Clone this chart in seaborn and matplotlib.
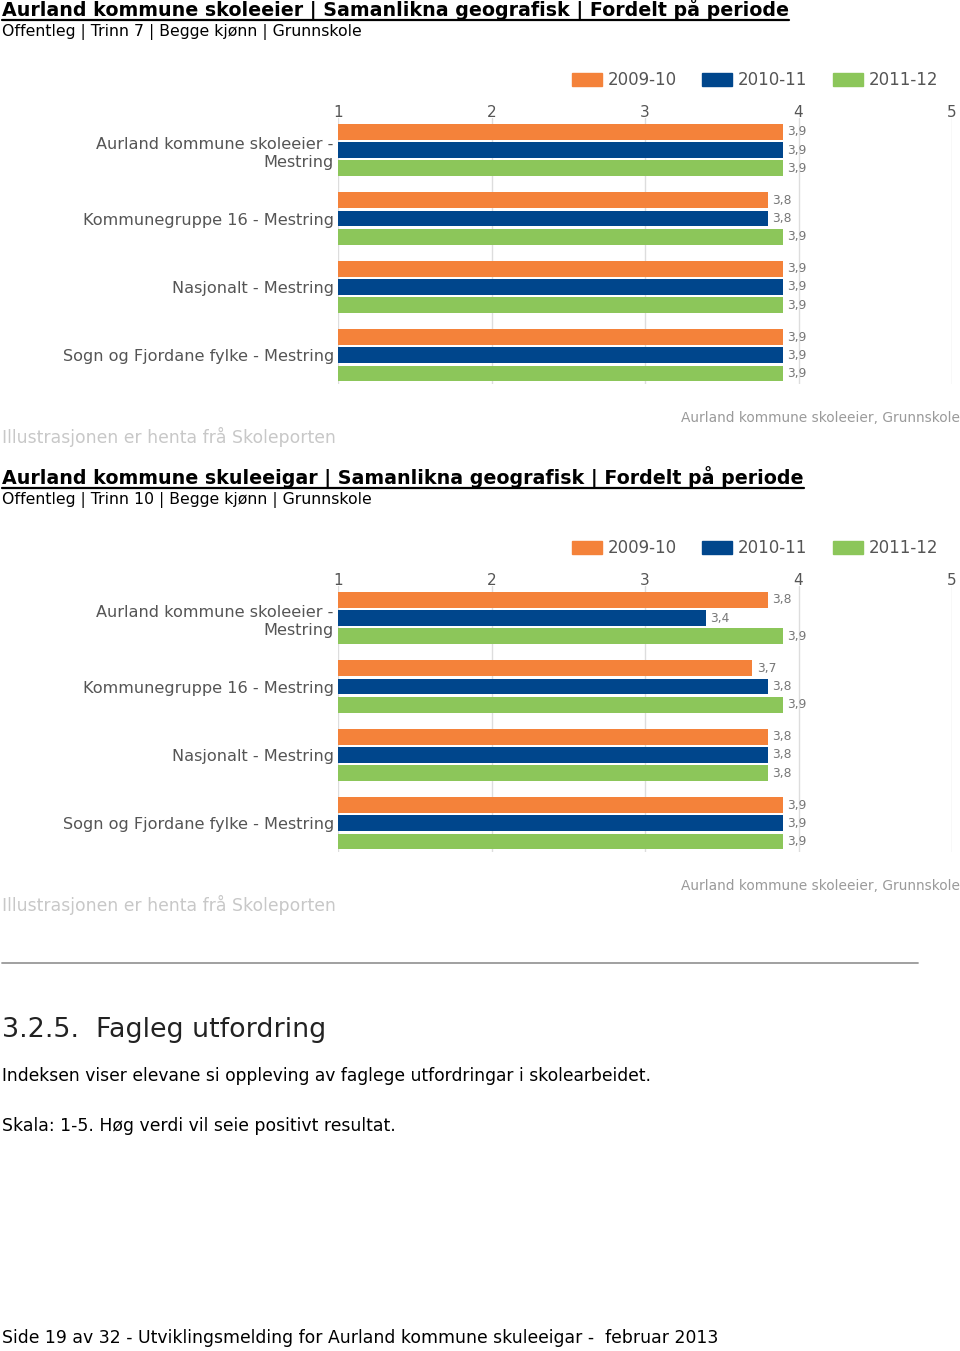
import matplotlib
matplotlib.use("Agg")
import matplotlib.pyplot as plt
import seaborn as sns
import pandas as pd
from matplotlib.lines import Line2D

# ---------------- data ----------------
categories = ["Aurland kommune skoleeier -\nMestring", "Kommunegruppe 16 - Mestring",
              "Nasjonalt - Mestring", "Sogn og Fjordane fylke - Mestring"]
periods = ["2009-10", "2010-11", "2011-12"]
trinn7_2009_10 = [3.9, 3.8, 3.9, 3.9]
trinn7_2010_11 = [3.9, 3.8, 3.9, 3.9]
trinn7_2011_12 = [3.9, 3.9, 3.9, 3.9]
trinn10_2009_10 = [3.8, 3.7, 3.8, 3.9]
trinn10_2010_11 = [3.4, 3.8, 3.8, 3.9]
trinn10_2011_12 = [3.9, 3.9, 3.8, 3.9]
x_ticks = [1, 2, 3, 4, 5]

title1 = "Aurland kommune skoleeier | Samanlikna geografisk | Fordelt på periode"
sub1 = "Offentleg | Trinn 7 | Begge kjønn | Grunnskole"
title2 = "Aurland kommune skuleeigar | Samanlikna geografisk | Fordelt på periode"
sub2 = "Offentleg | Trinn 10 | Begge kjønn | Grunnskole"
source_left = "Illustrasjonen er henta frå Skoleporten"
source_right = "Aurland kommune skoleeier, Grunnskole"
heading = "3.2.5.  Fagleg utfordring"
para1 = "Indeksen viser elevane si oppleving av faglege utfordringar i skolearbeidet."
para2 = "Skala: 1-5. Høg verdi vil seie positivt resultat."
footer = "Side 19 av 32 - Utviklingsmelding for Aurland kommune skuleeigar -  februar 2013"

colors = ["#F4823A", "#00468C", "#8CC65A"]

W, H = 960, 1351
sns.set_style("white")
plt.rcParams['font.family'] = ['DejaVu Sans']
fig = plt.figure(figsize=(W / 100, H / 100), dpi=100)
fig.patch.set_facecolor("white")


def fy(px):
    return 1 - px / H


def fx(px):
    return px / W


def make_df(series):
    rows = []
    for p, vals in zip(periods, series):
        for c, v in zip(categories, vals):
            rows.append({"cat": c, "period": p, "value": v})
    return pd.DataFrame(rows)


def draw_chart(off, title, sub, series):
    # title + underline
    t = fig.text(fx(2), fy(10 + off), title, fontsize=13.7, fontweight="bold",
                 color="black", ha="left", va="center")
    fig.text(fx(2), fy(32 + off), sub, fontsize=11.3, color="black",
             ha="left", va="center")
    fig.canvas.draw()
    bb = t.get_window_extent(fig.canvas.get_renderer())
    fig.add_artist(Line2D([bb.x0 / W, bb.x1 / W], [fy(20 + off)] * 2,
                          color="black", lw=1.6, transform=fig.transFigure))

    top, bottom = 118 + off, 384 + off
    ax = fig.add_axes([fx(338), fy(bottom), fx(952) - fx(338), fy(top) - fy(bottom)])
    df = make_df(series)
    sns.barplot(data=df, x="value", y="cat", hue="period", orient="h",
                palette=colors, hue_order=periods, order=categories,
                width=0.8, gap=0.13, linewidth=0, saturation=1, ax=ax,
                legend=False, errorbar=None)
    ax.set_xlim(1, 5)
    ax.set_ylim(3.42, -0.47)
    ax.set_xticks(x_ticks)
    ax.xaxis.tick_top()
    ax.tick_params(axis="x", length=0, pad=-1.5, labelsize=11, labelcolor="#555555")
    ax.tick_params(axis="y", length=0, pad=3, labelsize=11.6, labelcolor="#555555")
    for lbl in ax.get_yticklabels():
        lbl.set_linespacing(1.3)
    ax.set_xlabel("")
    ax.set_ylabel("")
    ax.grid(axis="x", color="#dddddd", lw=1)
    ax.set_axisbelow(True)
    for s in ax.spines.values():
        s.set_visible(False)
    for cont in ax.containers:
        labels = [f"{v:.1f}".replace(".", ",") for v in cont.datavalues]
        ax.bar_label(cont, labels=labels, padding=3, fontsize=8.8, color="#777777")

    # legend
    handles = [plt.Rectangle((0, 0), 1, 1, color=c) for c in colors]
    fig.legend(handles, periods, loc="center right",
               bbox_to_anchor=(fx(938), fy(80 + off)), ncol=3, frameon=False,
               fontsize=12, handlelength=1.8, handleheight=0.8,
               handletextpad=0.36, columnspacing=1.5, labelcolor="#555555",
               borderpad=0, borderaxespad=0)

    fig.text(fx(2), fy(437 + off), source_left, fontsize=12.4, color="#c8c8c8",
             ha="left", va="center")
    fig.text(fx(960), fy(418 + off), source_right, fontsize=9.9, color="#9a9a9a",
             ha="right", va="center")


draw_chart(0, title1, sub1, [trinn7_2009_10, trinn7_2010_11, trinn7_2011_12])
draw_chart(468, title2, sub2, [trinn10_2009_10, trinn10_2010_11, trinn10_2011_12])

fig.add_artist(Line2D([fx(2), fx(918)], [fy(963)] * 2, color="#999999", lw=1.3,
                      transform=fig.transFigure))
fig.text(fx(2), fy(1030), heading, fontsize=19.4, color="#222222", ha="left", va="center")
fig.text(fx(2), fy(1076), para1, fontsize=12.3, color="black", ha="left", va="center")
fig.text(fx(2), fy(1126), para2, fontsize=12.4, color="black", ha="left", va="center")
fig.text(fx(2), fy(1338), footer, fontsize=12.4, color="black", ha="left", va="center")

fig.savefig("out.png", dpi=100, facecolor="white")
